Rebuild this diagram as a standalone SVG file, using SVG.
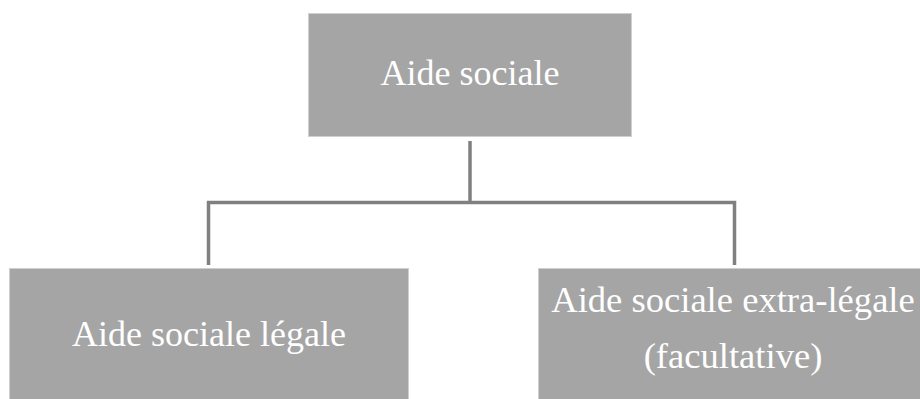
<svg xmlns="http://www.w3.org/2000/svg" width="920" height="399" viewBox="0 0 920 399">
<style>
.box{fill:#a5a5a5;stroke:#cfcfcf;stroke-width:1}
.lbl{font-family:"Liberation Serif","Times New Roman",serif;font-size:36px;fill:#ffffff;text-anchor:middle}
.big{font-size:36.6px}
.con{fill:none;stroke:#808080;stroke-width:3.5}
</style>
<rect width="920" height="399" fill="#ffffff"/>
<g id="connectors">
<path class="con" d="M470 141 V202.5"/>
<path class="con" d="M208.5 265 V202.5 H734.5 V265"/>
</g>
<g id="node-aide-sociale">
<rect class="box" x="308.5" y="13.5" width="323" height="123"/>
<text class="lbl" x="470" y="85">Aide sociale</text>
</g>
<g id="node-legale">
<rect class="box" x="9.5" y="268.5" width="399" height="140"/>
<text class="lbl" x="209" y="345.5">Aide sociale légale</text>
</g>
<g id="node-extra-legale">
<rect class="box" x="538.5" y="268.5" width="392" height="140"/>
<text class="lbl big" x="733" y="312">Aide sociale extra-légale</text>
<text class="lbl big" x="733" y="368">(facultative)</text>
</g>
</svg>
